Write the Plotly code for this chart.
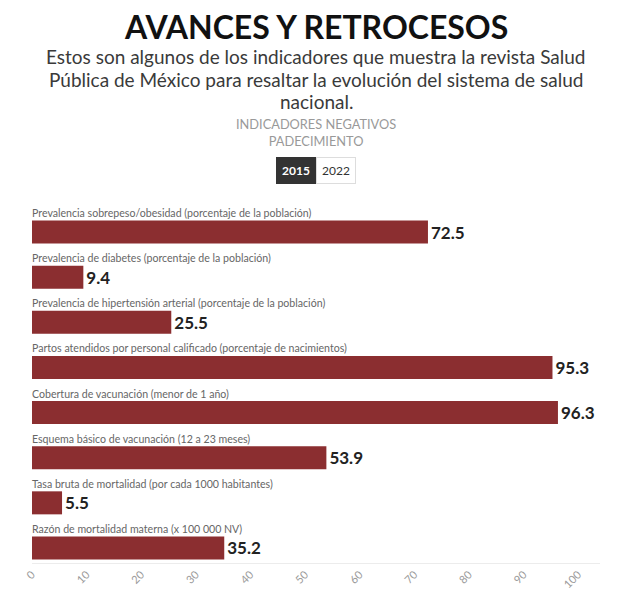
import plotly.graph_objects as go

categories = [
    "Prevalencia sobrepeso/obesidad (porcentaje de la población)",
    "Prevalencia de diabetes (porcentaje de la población)",
    "Prevalencia de hipertensión arterial (porcentaje de la población)",
    "Partos atendidos por personal calificado (porcentaje de nacimientos)",
    "Cobertura de vacunación (menor de 1 año)",
    "Esquema básico de vacunación (12 a 23 meses)",
    "Tasa bruta de mortalidad (por cada 1000 habitantes)",
    "Razón de mortalidad materna (x 100 000 NV)",
]
values_2015 = [72.5, 9.4, 25.5, 95.3, 96.3, 53.9, 5.5, 35.2]
tick_values = [0, 10, 20, 30, 40, 50, 60, 70, 80, 90, 100]
tick_labels = [str(v) for v in tick_values]

title_text = "<b>AVANCES Y RETROCESOS</b>"
subtitle_lines = [
    "Estos son algunos de los indicadores que muestra la revista Salud",
    "Pública de México para resaltar la evolución del sistema de salud",
    "nacional.",
]
section_lines = ["INDICADORES NEGATIVOS", "PADECIMIENTO"]
years = ["2015", "2022"]

FONT = "Lato"
BAR = "#8b2e30"

# plot area in screen pixels: x 32..600, y 200..563
PX0, PX1, PY0, PY1 = 32, 600, 200, 563


def px(X):
    return (X - PX0) / (PX1 - PX0)


def py(Y):
    return (PY1 - Y) / (PY1 - PY0)


fig = go.Figure(
    go.Bar(
        x=values_2015,
        y=categories,
        orientation="h",
        marker=dict(color=BAR, line=dict(width=0)),
        width=0.51,
        texttemplate="%{x:.1f}",
        textposition="outside",
        textfont=dict(family=FONT, size=17, color="#222222", weight="bold"),
        cliponaxis=False,
        hoverinfo="x+y",
    )
)

annotations = []
for c in categories:
    annotations.append(dict(
        x=0, y=c, xref="x", yref="y", text=c, showarrow=False,
        xanchor="left", yanchor="bottom", yshift=11, xshift=-2,
        font=dict(family=FONT, size=10.6, color="#666666"),
    ))

annotations.append(dict(
    x=px(316), y=py(27), xref="paper", yref="paper", yanchor="middle",
    text=title_text, showarrow=False,
    font=dict(family=FONT, size=32, color="#111111")))

for i, line in enumerate(subtitle_lines):
    annotations.append(dict(
        x=px(316), y=py(57 + 22 * i), xref="paper", yref="paper", yanchor="middle",
        text=line, showarrow=False,
        font=dict(family=FONT, size=19, color="#3a3a3a")))

annotations.append(dict(
    x=px(316), y=py(132.5), xref="paper", yref="paper", yanchor="middle",
    text="<br>".join(section_lines), showarrow=False,
    font=dict(family=FONT, size=12.8, color="#999999")))

btn_x = [296, 335.5]
for i, yr in enumerate(years):
    active = i == 0
    annotations.append(dict(
        x=px(btn_x[i]), y=py(170), xref="paper", yref="paper", yanchor="middle",
        text=f"<b>{yr}</b>" if active else yr, showarrow=False,
        bgcolor="#333333" if active else "#ffffff",
        bordercolor="#333333" if active else "#dddddd",
        borderwidth=1, borderpad=5,
        font=dict(family=FONT, size=12, color="#ffffff" if active else "#333333")))

fig.update_layout(
    width=609, height=589,
    margin=dict(l=24, r=17, t=192, b=34, autoexpand=False),
    paper_bgcolor="#ffffff", plot_bgcolor="#ffffff",
    showlegend=False,
    font=dict(family=FONT),
    annotations=annotations,
    xaxis=dict(
        range=[0, 104], tickvals=tick_values, ticktext=tick_labels,
        tickangle=-45, tickfont=dict(family=FONT, size=11, color="#9a9a9a"),
        showgrid=False, zeroline=False, showline=True, linecolor="#ececec",
        linewidth=1, ticks="", fixedrange=True, automargin=False,
    ),
    yaxis=dict(
        range=[7.333, -0.71], showticklabels=False, showgrid=False,
        zeroline=False, showline=False, fixedrange=True, automargin=False,
    ),
)

fig.write_html("out.html")
